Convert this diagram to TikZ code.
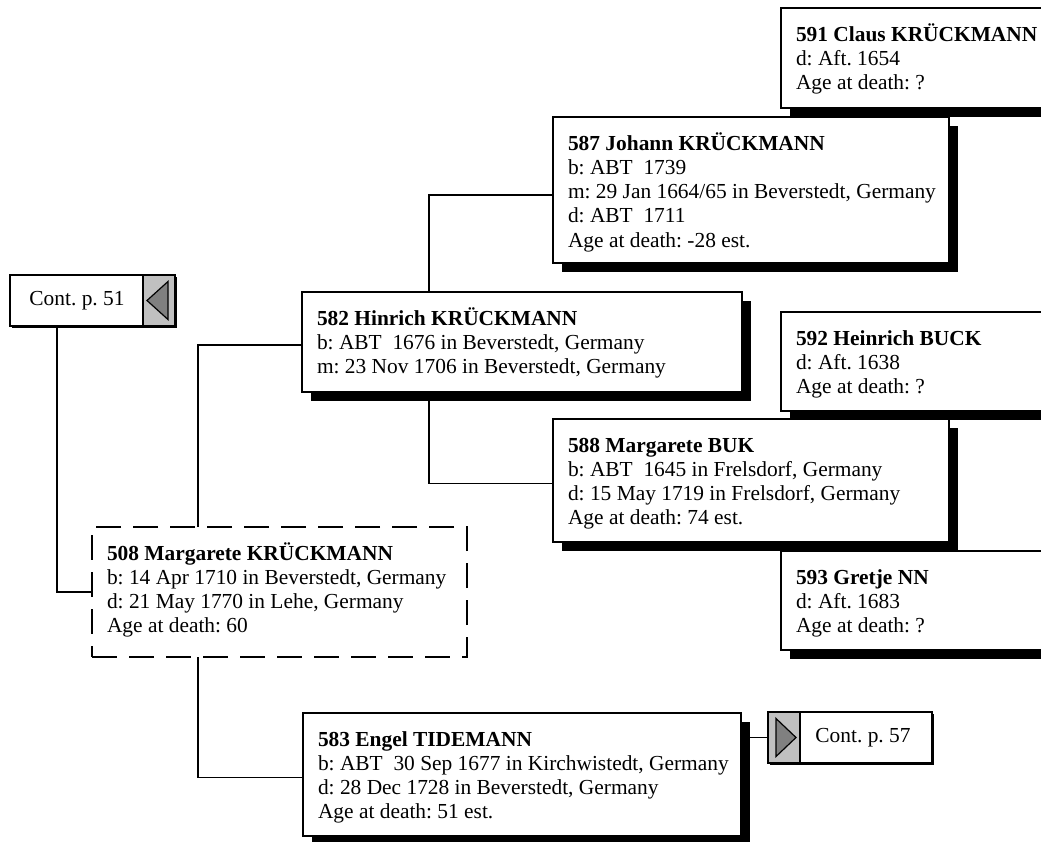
\documentclass[tikz,border=0pt]{standalone}
\usepackage{fontspec}
\setmainfont{Liberation Serif}
\usetikzlibrary{calc,shadows,backgrounds}
\definecolor{contgray}{HTML}{C0C0C0}
\definecolor{arrowgray}{HTML}{808080}
\newcommand{\ttl}[1]{{\bfseries #1}}
\newcommand{\boxtext}[3]{\parbox[c][#1][t]{#2}{\raggedright\rule{0pt}{33pt}#3}}
\begin{document}
\begin{tikzpicture}[x=1pt,y=-1pt,
  txt/.style={font=\fontsize{21.4}{24.3}\selectfont\frenchspacing},
  person/.style={txt, draw, line width=1.5pt, fill=white, anchor=north west,
    inner xsep=15pt, inner ysep=0pt, outer sep=0pt},
  shadowed/.style={drop shadow={shadow xshift=9pt, shadow yshift=-9pt, opacity=1, fill=black}},
  focus/.style={person, dash pattern=on 25pt off 12pt, line width=1.2pt},
  contbox/.style={txt, draw, line width=1.5pt, fill=white, anchor=north west,
    inner sep=0pt, outer sep=0pt, minimum height=51pt,
    drop shadow={shadow xshift=1.5pt, shadow yshift=-1.5pt, opacity=1, fill=black}},
  contgrey/.style={draw, line width=1.5pt, fill=contgray, anchor=north west,
    inner sep=0pt, outer sep=0pt, minimum width=32pt, minimum height=51pt},
  tri/.style={draw, line width=1.2pt, fill=arrowgray, line join=miter},
  link/.style={draw, line width=1.5pt}
]
\clip (0,0) rectangle (1041,841);

% persons
\node[person, shadowed] (p591) at (781,8)
  {\boxtext{100pt}{270pt}{\ttl{591 Claus KRÜCKMANN}\\d: Aft. 1654\\Age at death: ?}};
\node[person, shadowed] (p587) at (553,117)
  {\boxtext{146pt}{366pt}{\ttl{587 Johann KRÜCKMANN}\\b: ABT\ \ 1739\\\mbox{m: 29 Jan 1664/65 in Beverstedt, Germany}\\d: ABT\ \ 1711\\Age at death: -28 est.}};
\node[person, shadowed] (p582) at (302,292)
  {\boxtext{100pt}{410pt}{\ttl{582 Hinrich KRÜCKMANN}\\b: ABT\ \ 1676 in Beverstedt, Germany\\m: 23 Nov 1706 in Beverstedt, Germany}};
\node[person, shadowed] (p592) at (781,312)
  {\boxtext{99pt}{270pt}{\ttl{592 Heinrich BUCK}\\d: Aft. 1638\\Age at death: ?}};
\node[person, shadowed] (p588) at (553,419)
  {\boxtext{123pt}{366pt}{\ttl{588 Margarete BUK}\\b: ABT\ \ 1645 in Frelsdorf, Germany\\d: 15 May 1719 in Frelsdorf, Germany\\Age at death: 74 est.}};
\node[person, shadowed] (p593) at (781,551)
  {\boxtext{99pt}{270pt}{\ttl{593 Gretje NN}\\d: Aft. 1683\\Age at death: ?}};
\node[focus] (p508) at (92,527)
  {\boxtext{130pt}{345pt}{\ttl{508 Margarete KRÜCKMANN}\\\mbox{b: 14 Apr 1710 in Beverstedt, Germany}\\d: 21 May 1770 in Lehe, Germany\\Age at death: 60}};
\node[person, shadowed] (p583) at (303,713)
  {\boxtext{123pt}{408pt}{\ttl{583 Engel TIDEMANN}\\\mbox{b: ABT\ \ 30 Sep 1677 in Kirchwistedt, Germany}\\d: 28 Dec 1728 in Beverstedt, Germany\\Age at death: 51 est.}};

% continuation boxes
\node[contbox, minimum width=165pt] (c51) at (10,275) {};
\node[txt, anchor=center] (c51t) at ($(c51.west)+(67,0)$) {Cont. p. 51};
\node[contgrey] (c51g) at (143,275) {};
\draw[tri] ($(c51g.west)+(4,0)$) -- ($(c51g.east)+(-7,-19)$) -- ($(c51g.east)+(-7,19)$) -- cycle;

\node[contbox, minimum width=164pt] (c57) at (768,712) {};
\node[txt, anchor=center] (c57t) at ($(c57.east)+(-69,0)$) {Cont. p. 57};
\node[contgrey] (c57g) at (768,712) {};
\draw[tri] ($(c57g.east)+(-4,0)$) -- ($(c57g.west)+(8,-19)$) -- ($(c57g.west)+(8,19)$) -- cycle;

% connectors
\begin{scope}[on background layer]
\draw[link] ($(c51.south west)+(47,0)$) |- (p508.west);
\draw[link] ($(p508.north west)+(106,0)$) |- ($(p582.west)+(0,3)$);
\draw[link] ($(p508.south west)+(106,0)$) |- ($(p583.west)+(0,3)$);
\draw[link] ($(p582.north west)+(127,0)$) |- ($(p587.west)+(0,5)$);
\draw[link] ($(p582.south west)+(127,0)$) |- ($(p588.west)+(0,3)$);
\draw[link] (c57g.west) -- (c57g.west -| p583.east);
\end{scope}
\end{tikzpicture}
\end{document}
